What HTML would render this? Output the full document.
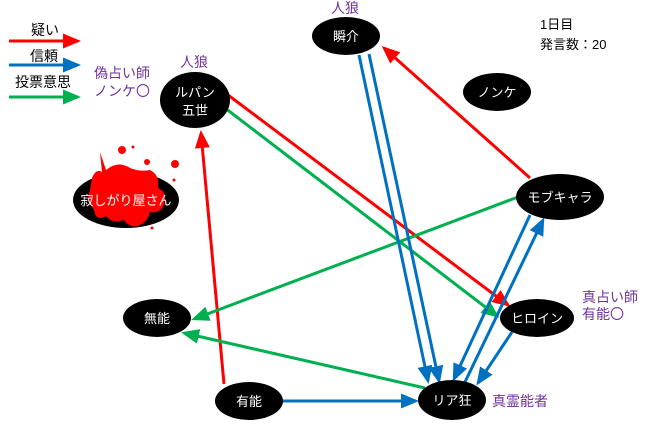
<!DOCTYPE html>
<html><head><meta charset="utf-8"><style>
html,body{margin:0;padding:0;background:#fff;}
svg{display:block;font-family:"Liberation Sans","Noto Sans CJK JP",sans-serif;}
</style></head><body>
<svg width="660" height="429" viewBox="0 0 660 429" xmlns="http://www.w3.org/2000/svg">
<defs>
<marker id="r" markerWidth="6" markerHeight="5" refX="5" refY="2.5" orient="auto" markerUnits="strokeWidth"><path d="M0,0 L6,2.5 L0,5 z" fill="#ff0000"/></marker>
<marker id="b" markerWidth="6" markerHeight="5" refX="5" refY="2.5" orient="auto" markerUnits="strokeWidth"><path d="M0,0 L6,2.5 L0,5 z" fill="#0070c0"/></marker>
<marker id="g" markerWidth="6" markerHeight="5" refX="5" refY="2.5" orient="auto" markerUnits="strokeWidth"><path d="M0,0 L6,2.5 L0,5 z" fill="#00b050"/></marker>
</defs>
<g stroke-width="3">
<line x1="9" y1="41" x2="78" y2="41" stroke="#ff0000" marker-end="url(#r)"/>
<line x1="9" y1="65" x2="78" y2="65" stroke="#0070c0" marker-end="url(#b)"/>
<line x1="9" y1="97" x2="78" y2="97" stroke="#00b050" marker-end="url(#g)"/>
</g>
<g font-size="14" fill="#000">
<text x="31" y="35">疑い</text>
<text x="30" y="61">信頼</text>
<text x="15" y="87">投票意思</text>
</g>
<g font-size="13" fill="#000">
<text x="540" y="29">1日目</text>
<text x="540" y="49">発言数：20</text>
</g>
<g font-size="14" fill="#7030a0">
<text x="94" y="78">偽占い師</text>
<text x="94" y="96">ノンケ〇</text>
<text x="180" y="67">人狼</text>
<text x="331" y="13">人狼</text>
<text x="582" y="302">真占い師</text>
<text x="582" y="319">有能〇</text>
<text x="492" y="406">真霊能者</text>
</g>
<g stroke-width="3" fill="none">
<line x1="224" y1="384" x2="201" y2="133" stroke="#ff0000" marker-end="url(#r)"/>
<line x1="228" y1="95" x2="508" y2="305" stroke="#ff0000" marker-end="url(#r)"/>
<line x1="530" y1="178" x2="384" y2="48" stroke="#ff0000" marker-end="url(#r)"/>
<line x1="225" y1="108" x2="497" y2="316" stroke="#00b050" marker-end="url(#g)"/>
<line x1="518" y1="197" x2="194" y2="319" stroke="#00b050" marker-end="url(#g)"/>
<line x1="425" y1="388" x2="184" y2="333" stroke="#00b050" marker-end="url(#g)"/>
<line x1="359" y1="55" x2="428" y2="381" stroke="#0070c0" marker-end="url(#b)"/>
<line x1="369" y1="54" x2="439" y2="381" stroke="#0070c0" marker-end="url(#b)"/>
<line x1="283" y1="401" x2="416" y2="401" stroke="#0070c0" marker-end="url(#b)"/>
<line x1="530" y1="215" x2="454" y2="379" stroke="#0070c0" marker-end="url(#b)"/>
<line x1="465" y1="382" x2="543" y2="220" stroke="#0070c0" marker-end="url(#b)"/>
<line x1="512" y1="332" x2="478" y2="383" stroke="#0070c0" marker-end="url(#b)"/>
</g>
<g fill="#000">
<ellipse cx="195" cy="100" rx="35" ry="28"/>
<ellipse cx="346" cy="36" rx="34" ry="19"/>
<ellipse cx="497" cy="92" rx="34" ry="19"/>
<ellipse cx="560" cy="197" rx="44" ry="23"/>
<ellipse cx="126" cy="200" rx="53" ry="28"/>
<ellipse cx="157" cy="318" rx="34" ry="19"/>
<ellipse cx="537" cy="318" rx="37" ry="19"/>
<ellipse cx="249" cy="401" rx="34" ry="19"/>
<ellipse cx="452" cy="400" rx="34" ry="20"/>
</g>
<g fill="#ff0000">
<path d="M92,178 Q96,168 102,172 L100,152 L106,170 Q118,160 130,168 Q140,172 150,170 Q160,175 158,188 Q168,192 164,205 Q160,214 150,212 Q148,222 138,226 Q130,228 124,220 Q112,224 106,216 Q96,222 94,210 Q86,200 90,190 Z"/>
<circle cx="122" cy="150" r="4"/><circle cx="133" cy="147" r="1.5"/><circle cx="147" cy="162" r="3"/><circle cx="175" cy="164" r="4"/><circle cx="174" cy="180" r="1.5"/><circle cx="152" cy="228" r="1.5"/>
</g>
<g font-size="13" fill="#fff" text-anchor="middle">
<text x="195" y="97">ルパン</text>
<text x="195" y="115">五世</text>
<text x="346" y="41">瞬介</text>
<text x="497" y="97">ノンケ</text>
<text x="560" y="202">モブキャラ</text>
<text x="126" y="205">寂しがり屋さん</text>
<text x="157" y="323">無能</text>
<text x="537" y="323">ヒロイン</text>
<text x="249" y="406">有能</text>
<text x="452" y="405">リア狂</text>
</g>
</svg>
</body></html>
